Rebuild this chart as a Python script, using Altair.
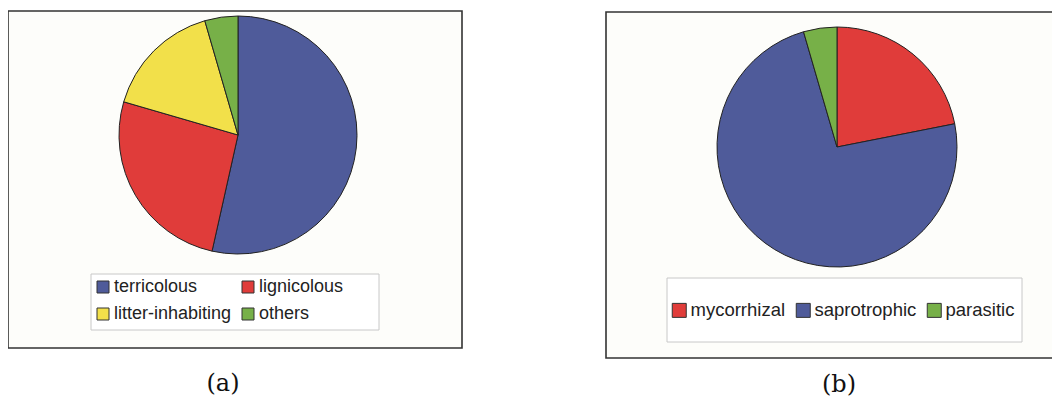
import altair as alt
import pandas as pd

# Panel (a): substrate groups (percent)
cats_a = ["terricolous", "lignicolous", "litter-inhabiting", "others"]
vals_a = [53.5, 26.0, 16.0, 4.5]
cols_a = ["#4f5b9a", "#e03c3a", "#f2e04a", "#77b048"]

# Panel (b): trophic groups (percent)
cats_b = ["mycorrhizal", "saprotrophic", "parasitic"]
vals_b = [21.9, 73.6, 4.5]
cols_b = ["#e03c3a", "#4f5b9a", "#77b048"]

panel_labels = ["(a)", "(b)"]

df_a = pd.DataFrame({"cat": cats_a, "val": vals_a, "ord": list(range(len(cats_a)))})
df_b = pd.DataFrame({"cat": cats_b, "val": vals_b, "ord": list(range(len(cats_b)))})
dummy = pd.DataFrame({"k": [0]})

W, H = 1044, 391

frame_a = alt.Chart(dummy).mark_rect(fill="#fdfdfa", stroke="#333333", strokeWidth=1.6).encode(
    x=alt.value(0), x2=alt.value(454), y=alt.value(3), y2=alt.value(340))
frame_b = alt.Chart(dummy).mark_rect(fill="#fdfdfa", stroke="#333333", strokeWidth=1.6).encode(
    x=alt.value(598), x2=alt.value(1070), y=alt.value(4), y2=alt.value(350))

lbox_a = alt.Chart(dummy).mark_rect(fill="#ffffff", stroke="#c8c8c8", strokeWidth=1).encode(
    x=alt.value(83), x2=alt.value(371), y=alt.value(266), y2=alt.value(322))
lbox_b = alt.Chart(dummy).mark_rect(fill="#ffffff", stroke="#c8c8c8", strokeWidth=1).encode(
    x=alt.value(659), x2=alt.value(1014), y=alt.value(270), y2=alt.value(334))

pie_a = alt.Chart(df_a).mark_arc(outerRadius=119, stroke="#222222", strokeWidth=1).encode(
    theta=alt.Theta("val:Q", stack=True),
    order=alt.Order("ord:Q"),
    color=alt.Color("cat:N", scale=alt.Scale(domain=cats_a, range=cols_a),
                    legend=alt.Legend(orient="none", legendX=86, legendY=270, columns=2,
                                      direction="horizontal",
                                      title=None, labelFontSize=18, labelFont="Liberation Sans",
                                      labelColor="#222222", symbolType="square", symbolSize=144,
                                      symbolStrokeColor="#333333", symbolStrokeWidth=1,
                                      symbolOpacity=1, columnPadding=7, rowPadding=9,
                                      padding=0, labelLimit=300, labelOffset=2)),
    x=alt.value(230), y=alt.value(127),
)

pie_b = alt.Chart(df_b).mark_arc(outerRadius=120, stroke="#222222", strokeWidth=1).encode(
    theta=alt.Theta("val:Q", stack=True),
    order=alt.Order("ord:Q"),
    color=alt.Color("cat:N", scale=alt.Scale(domain=cats_b, range=cols_b),
                    legend=alt.Legend(orient="none", legendX=662, legendY=293, columns=3,
                                      direction="horizontal",
                                      title=None, labelFontSize=18.5, labelFont="Liberation Sans",
                                      labelColor="#222222", symbolType="square", symbolSize=196,
                                      symbolStrokeColor="#333333", symbolStrokeWidth=1,
                                      symbolOpacity=1, columnPadding=8, rowPadding=0,
                                      padding=0, labelLimit=300, labelOffset=2)),
    x=alt.value(829), y=alt.value(139),
)

lab_df = pd.DataFrame({"t": panel_labels, "px": [215, 831], "py": [376, 377]})
labels = alt.Chart(lab_df).mark_text(font="DejaVu Serif", fontSize=24, color="#111111",
                                     align="center", baseline="middle").encode(
    text="t:N",
    x=alt.X("px:Q", scale=alt.Scale(domain=[0, W], range=[0, W]), axis=None),
    y=alt.Y("py:Q", scale=alt.Scale(domain=[0, H], range=[0, H]), axis=None),
)

chart = alt.layer(frame_a, frame_b, lbox_a, lbox_b, pie_a, pie_b, labels).resolve_scale(
    color="independent", theta="independent"
).properties(
    width=W, height=H, autosize=alt.AutoSizeParams(type="none"), padding=0
).configure(background="#ffffff").configure_view(strokeWidth=0, strokeOpacity=0)

chart.save("out.html", embed_options={"renderer": "svg", "actions": False})
